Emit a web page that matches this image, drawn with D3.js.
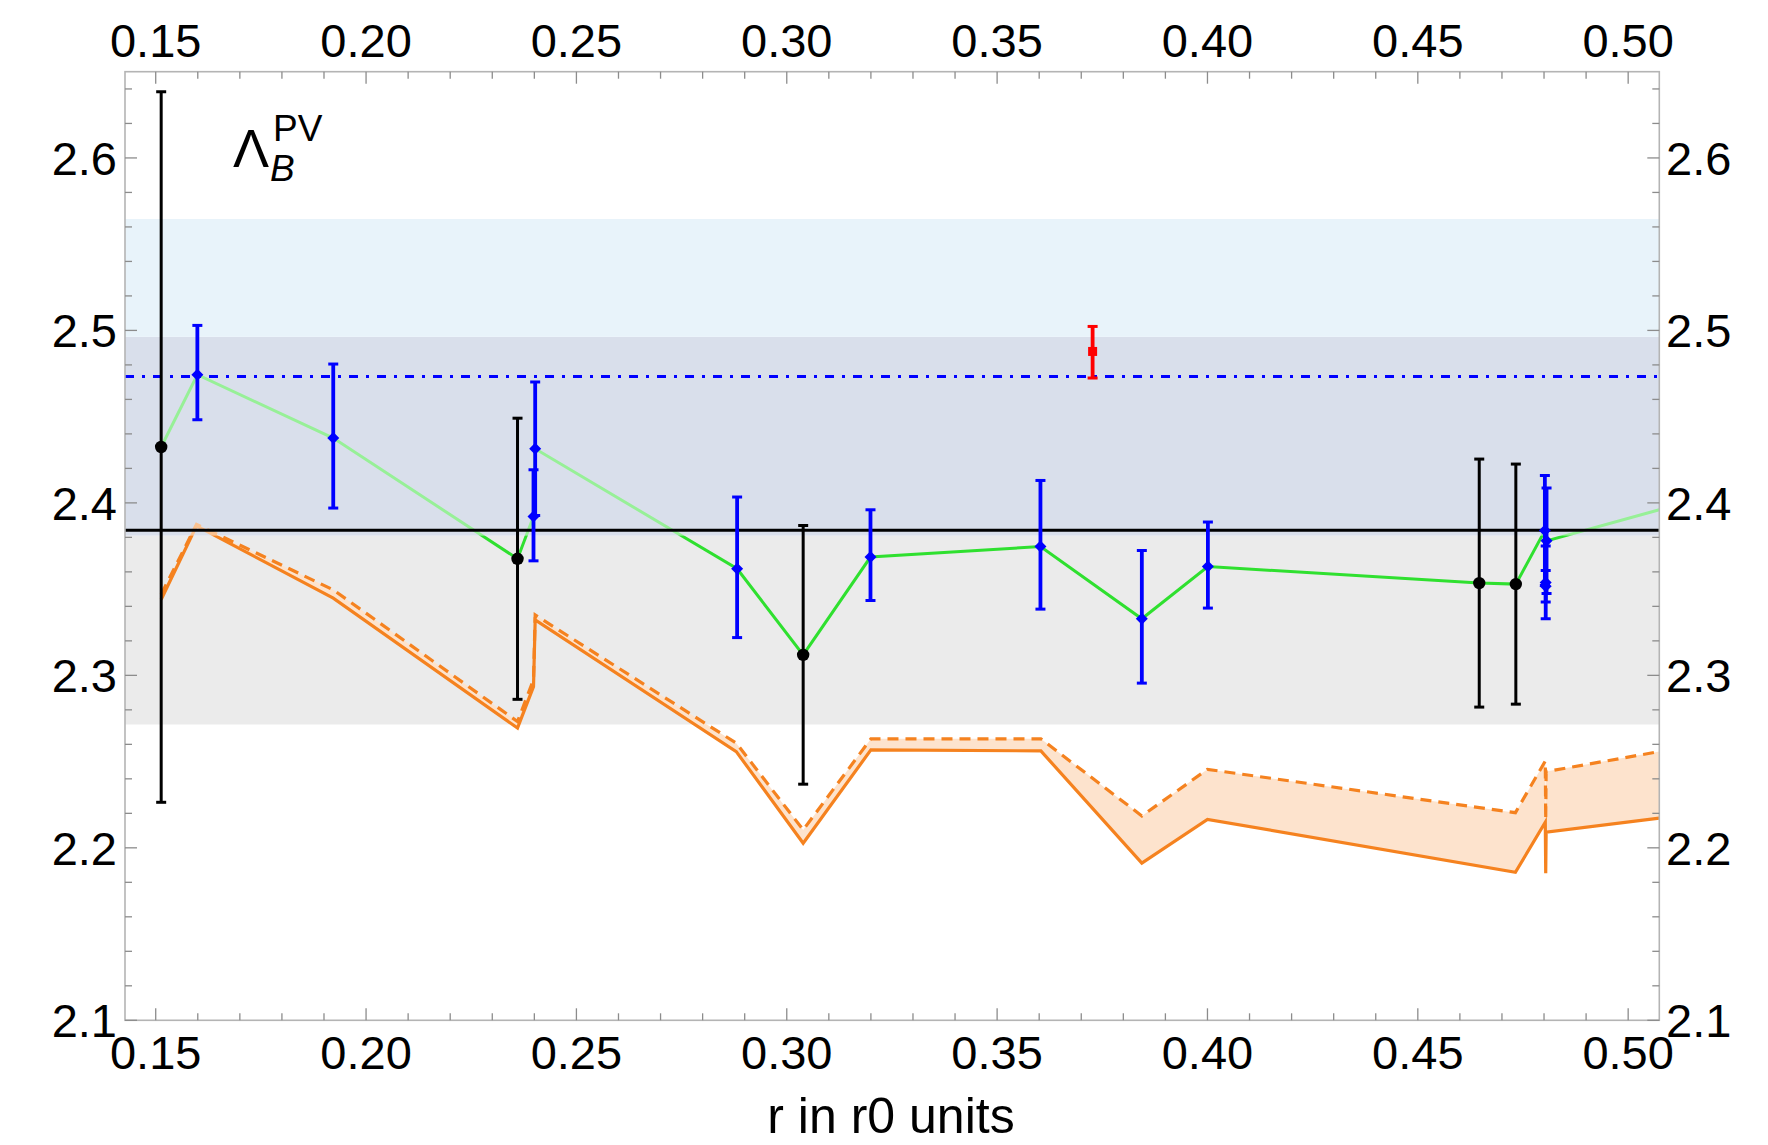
<!DOCTYPE html>
<html><head><meta charset="utf-8">
<script src="https://cdn.jsdelivr.net/npm/d3@7"></script>
<style>body{margin:0;background:#fff}svg{display:block}text{font-family:"Liberation Sans",Arial,sans-serif}</style>
</head><body><svg id="c" width="1768" height="1145"></svg>
<script>
// ---------- data ----------
const xDomain = [0.1427, 0.5074];
const yDomain = [2.1, 2.65];
const xTicks = [0.15, 0.20, 0.25, 0.30, 0.35, 0.40, 0.45, 0.50];
const xTickLabels = ["0.15","0.20","0.25","0.30","0.35","0.40","0.45","0.50"];
const yTicks = [2.1, 2.2, 2.3, 2.4, 2.5, 2.6];
const yTickLabels = ["2.1","2.2","2.3","2.4","2.5","2.6"];

const bandBlue = [2.381, 2.5646];
const bandGray = [2.2715, 2.4963];
const hLineBlack = 2.3842;
const hLineBlue = 2.4733;

const blackX = [0.1513, 0.2360, 0.3039, 0.4646, 0.4733];
const blackY = [2.4324, 2.3676, 2.3119, 2.3535, 2.3529];
const blackErr = [0.2060, 0.0815, 0.0750, 0.0719, 0.0696];

const blueX  = [0.1599, 0.1922, 0.2398, 0.2402, 0.2882, 0.3199, 0.3603, 0.3844, 0.4001, 0.4802, 0.4806, 0.4804, 0.4804];
const blueY  = [2.4743, 2.4376, 2.3921, 2.4314, 2.3618, 2.3686, 2.3747, 2.3328, 2.3631, 2.3840, 2.3780, 2.3538, 2.3517];
const blueLo = [2.4482, 2.3970, 2.3664, 2.3927, 2.3219, 2.3434, 2.3384, 2.2955, 2.3390, 2.3521, 2.3474, 2.3328, 2.3425];
const blueHi = [2.5029, 2.4805, 2.4192, 2.4701, 2.4034, 2.3960, 2.4130, 2.3724, 2.3889, 2.4159, 2.4086, 2.3750, 2.3608];

const redX = [0.3727];
const redY = [2.4878];
const redLo = [2.4724];
const redHi = [2.5023];

const greenX = [0.1513, 0.1599, 0.1922, 0.2360, 0.2398, 0.2402, 0.2882, 0.3039, 0.3199, 0.3603, 0.3844, 0.4001, 0.4646, 0.4733, 0.4802, 0.4806, 0.5074];
const greenY = [2.4324, 2.4743, 2.4376, 2.3676, 2.3921, 2.4314, 2.3618, 2.3119, 2.3686, 2.3747, 2.3328, 2.3631, 2.3535, 2.3529, 2.3840, 2.3780, 2.3960];

const orangeX = [0.1513, 0.1597, 0.1922, 0.2360, 0.2398, 0.2402, 0.2880, 0.3039, 0.3200, 0.3604, 0.3844, 0.4000, 0.4732, 0.4803, 0.4804, 0.4805, 0.5074];
const orangeSolidY  = [2.3440, 2.3867, 2.3448, 2.2694, 2.2935, 2.3322, 2.2558, 2.2027, 2.2568, 2.2562, 2.1911, 2.2165, 2.1858, 2.2149, 2.1853, 2.2091, 2.2172];
const orangeDashedY = [2.3470, 2.3875, 2.3496, 2.2732, 2.2975, 2.3350, 2.2607, 2.2104, 2.2632, 2.2632, 2.2185, 2.2455, 2.2204, 2.2503, 2.2165, 2.2442, 2.2558];

// ---------- layout ----------
const L = 125, R = 1659.3, T = 71.7, B = 1020.3;
const svg = d3.select("#c");
svg.append("rect").attr("width",1768).attr("height",1145).attr("fill","#fff");
const x = d3.scaleLinear().domain(xDomain).range([L, R]);
const y = d3.scaleLinear().domain(yDomain).range([B, T]);

svg.append("defs").append("clipPath").attr("id","clip")
  .append("rect").attr("x",L).attr("y",T).attr("width",R-L).attr("height",B-T);
const g = svg.append("g").attr("clip-path","url(#clip)");

// bands (colours chosen so that the white veil below gives final tints)
g.append("rect").attr("x",L).attr("width",R-L)
  .attr("y",y(bandGray[1])).attr("height",y(bandBlue[0])-y(bandGray[1])).attr("fill","#b3bfd7");
g.append("rect").attr("x",L).attr("width",R-L)
  .attr("y",y(bandBlue[1])).attr("height",y(bandGray[1])-y(bandBlue[1])).attr("fill","#d0e6f5");
g.append("rect").attr("x",L).attr("width",R-L)
  .attr("y",y(bandBlue[0])).attr("height",y(bandGray[0])-y(bandBlue[0])).attr("fill","#ebebeb");

// green line
const greenPts = greenX.map((v,i)=>[v, greenY[i]]);
g.append("path").datum(greenPts)
  .attr("d", d3.line().x(d=>x(d[0])).y(d=>y(d[1])))
  .attr("fill","none").attr("stroke","#2fe02f").attr("stroke-width",3);

// orange band
const oPts = orangeX.map((v,i)=>({x:v, s:orangeSolidY[i], d:orangeDashedY[i]}));
g.append("path").datum(oPts)
  .attr("d", d3.area().x(d=>x(d.x)).y0(d=>y(d.s)).y1(d=>y(d.d)))
  .attr("fill","#fde3cd");
g.append("path").datum(oPts)
  .attr("d", d3.line().x(d=>x(d.x)).y(d=>y(d.d)))
  .attr("fill","none").attr("stroke","#f5821f").attr("stroke-width",3.2)
  .attr("stroke-dasharray","11,7");
g.append("path").datum(oPts)
  .attr("d", d3.line().x(d=>x(d.x)).y(d=>y(d.s)))
  .attr("fill","none").attr("stroke","#f5821f").attr("stroke-width",3.2)
  .attr("stroke-linejoin","miter");

// translucent veil of the upper band
g.append("rect").attr("x",L).attr("width",R-L)
  .attr("y",y(bandBlue[1])).attr("height",y(bandBlue[0])-y(bandBlue[1]))
  .attr("fill","#fff").attr("opacity",0.5);

// reference lines
g.append("line").attr("x1",L).attr("x2",R).attr("y1",y(hLineBlack)).attr("y2",y(hLineBlack))
  .attr("stroke","#000").attr("stroke-width",3);
g.append("line").attr("x1",L).attr("x2",R).attr("y1",y(hLineBlue)).attr("y2",y(hLineBlue))
  .attr("stroke","#0000ff").attr("stroke-width",3).attr("stroke-dasharray","9,8,3,8");

// error bars
function errBars(xs, lo, hi, color, w, cap){
  xs.forEach((v,i)=>{
    const cx = x(v);
    g.append("line").attr("x1",cx).attr("x2",cx).attr("y1",y(lo[i])).attr("y2",y(hi[i]))
      .attr("stroke",color).attr("stroke-width",w);
    [lo[i],hi[i]].forEach(e=>{
      g.append("line").attr("x1",cx-cap).attr("x2",cx+cap).attr("y1",y(e)).attr("y2",y(e))
        .attr("stroke",color).attr("stroke-width",3);
    });
  });
}
errBars(blackX, blackY.map((v,i)=>v-blackErr[i]), blackY.map((v,i)=>v+blackErr[i]), "#000", 3, 5);
errBars(blueX, blueLo, blueHi, "#0000ff", 3.8, 5);
errBars(redX, redLo, redHi, "#ff0000", 3.8, 5);

// markers
blackX.forEach((v,i)=>{
  g.append("circle").attr("cx",x(v)).attr("cy",y(blackY[i])).attr("r",6.2).attr("fill","#000");
});
blueX.forEach((v,i)=>{
  const cx=x(v), cy=y(blueY[i]), h=6;
  g.append("path").attr("d",`M${cx},${cy-h}L${cx+h},${cy}L${cx},${cy+h}L${cx-h},${cy}Z`).attr("fill","#0000ff");
});
redX.forEach((v,i)=>{
  g.append("rect").attr("x",x(v)-4.5).attr("y",y(redY[i])-4.5).attr("width",9).attr("height",9).attr("fill","#ff0000");
});

// frame
svg.append("rect").attr("x",L).attr("y",T).attr("width",R-L).attr("height",B-T)
  .attr("fill","none").attr("stroke","#b4b4b4").attr("stroke-width",1.6);

// ticks
const tickCol = "#8c8c8c";
const xMinor = d3.range(0.15, 0.5075, 0.01);
xMinor.forEach(v=>{
  const major = xTicks.some(t=>Math.abs(t-v)<1e-6);
  const len = major ? 12 : 7;
  svg.append("line").attr("x1",x(v)).attr("x2",x(v)).attr("y1",B).attr("y2",B-len).attr("stroke",tickCol).attr("stroke-width",1.3);
  svg.append("line").attr("x1",x(v)).attr("x2",x(v)).attr("y1",T).attr("y2",T+len).attr("stroke",tickCol).attr("stroke-width",1.3);
});
const yMinor = d3.range(2.1, 2.6501, 0.02);
yMinor.forEach(v=>{
  const major = yTicks.some(t=>Math.abs(t-v)<1e-6);
  const len = major ? 12 : 7;
  svg.append("line").attr("x1",L).attr("x2",L+len).attr("y1",y(v)).attr("y2",y(v)).attr("stroke",tickCol).attr("stroke-width",1.3);
  svg.append("line").attr("x1",R).attr("x2",R-len).attr("y1",y(v)).attr("y2",y(v)).attr("stroke",tickCol).attr("stroke-width",1.3);
});

// tick labels
const fs = 47;
xTicks.forEach((v,i)=>{
  svg.append("text").attr("x",x(v)).attr("y",57).attr("text-anchor","middle").attr("font-size",fs).text(xTickLabels[i]);
  svg.append("text").attr("x",x(v)).attr("y",1069).attr("text-anchor","middle").attr("font-size",fs).text(xTickLabels[i]);
});
yTicks.forEach((v,i)=>{
  svg.append("text").attr("x",117).attr("y",y(v)+17).attr("text-anchor","end").attr("font-size",fs).text(yTickLabels[i]);
  svg.append("text").attr("x",1666).attr("y",y(v)+17).attr("text-anchor","start").attr("font-size",fs).text(yTickLabels[i]);
});

// axis title
svg.append("text").attr("x",891).attr("y",1133).attr("text-anchor","middle").attr("font-size",50).text("r in r0 units");

// panel label
const lab = svg.append("g");
lab.append("text").attr("x",233).attr("y",167).attr("font-size",54).text("Λ");
lab.append("text").attr("x",273).attr("y",141).attr("font-size",37).text("PV");
lab.append("text").attr("x",270).attr("y",181).attr("font-size",37).attr("font-style","italic").text("B");
</script></body></html>
